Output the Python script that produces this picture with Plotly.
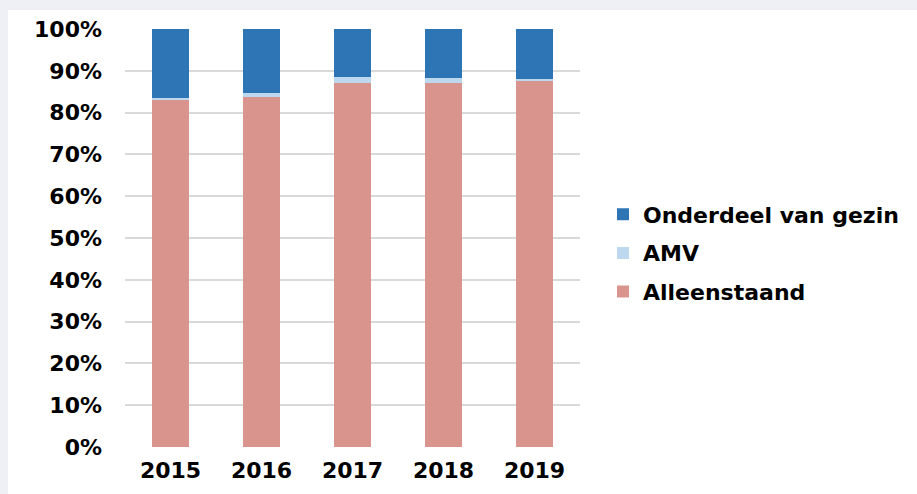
import plotly.graph_objects as go

years = ["2015", "2016", "2017", "2018", "2019"]
alleenstaand = [0.830, 0.837, 0.872, 0.871, 0.876]
amv = [0.005, 0.011, 0.012, 0.011, 0.005]
onderdeel = [0.165, 0.152, 0.116, 0.118, 0.119]

series_names = ["Alleenstaand", "AMV", "Onderdeel van gezin"]
series_colors = ["#d9958d", "#bdd7ee", "#2e75b6"]
series_values = [alleenstaand, amv, onderdeel]
legend_ranks = [3, 2, 1]

W, H = 917, 494
L, R, T, B = 125, 580, 29, 447

fig = go.Figure()
for name, color, vals, rank in zip(series_names, series_colors, series_values, legend_ranks):
    fig.add_trace(go.Bar(x=years, y=vals, name=name, marker=dict(color=color, line=dict(width=0)),
                         legendgroup=name, legendrank=rank))

pw, ph = R - L, B - T
def px_x(x):
    return (x - L) / pw
def px_y(y):
    return (B - y) / ph

fig.add_shape(type="rect", xref="paper", yref="paper",
              x0=px_x(8), x1=px_x(W + 5), y0=px_y(10), y1=px_y(H + 5),
              fillcolor="white", line=dict(width=0), layer="below")

bold = dict(family="DejaVu Sans", size=22, color="black", weight="bold")
fig.update_layout(
    width=W, height=H,
    margin=dict(l=L, r=W - R, t=T, b=H - B, pad=0),
    paper_bgcolor="#eff0f6", plot_bgcolor="rgba(0,0,0,0)",
    barmode="stack", bargap=0.6,
    font=dict(family="DejaVu Sans", size=20, color="black"),
    showlegend=True,
    legend=dict(traceorder="grouped", x=px_x(603), y=px_y(253), xanchor="left", yanchor="middle",
                font=bold, tracegroupgap=7, itemwidth=30, bgcolor="rgba(0,0,0,0)"),
)
fig.update_yaxes(range=[0, 1], dtick=0.1, tickformat=".0%", showgrid=True,
                 gridcolor="#d9d9d9", gridwidth=2, zeroline=False, showline=False,
                 ticklabelstandoff=22, tickfont=bold)
fig.update_xaxes(showgrid=False, showline=False, zeroline=False, ticklabelstandoff=8,
                 tickfont=bold)

fig.write_html("out.html", config={"displayModeBar": False},
               post_script="document.body.style.margin='0';")
